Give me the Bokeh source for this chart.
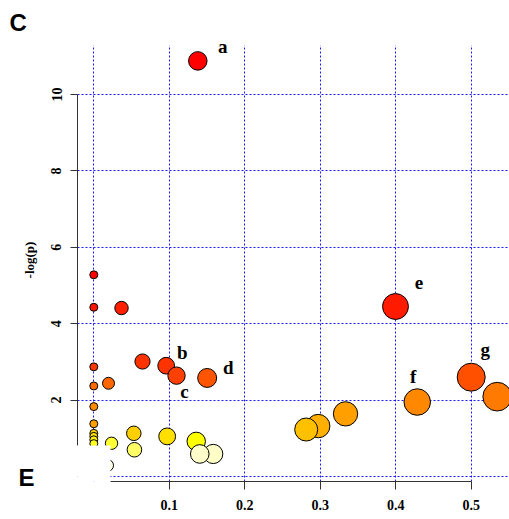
import math
from bokeh.plotting import figure
from bokeh.models import (ColumnDataSource, LabelSet, Label, BoxAnnotation,
                          FixedTicker, Range1d)
from bokeh.core.properties import value
from bokeh.embed import file_html
from bokeh.resources import INLINE

# ---------------- data ----------------
# pathway impact (x) and -log(p) (y)
impact = [0.1378, 0.0, 0.0, 0.0367, 0.3997, 0.0645, 0.0959, 0.1096, 0.0,
          0.1502, 0.5000, 0.0195, 0.0, 0.5345, 0.4285, 0.0, 0.3335, 0.0,
          0.2973, 0.2814, 0.0530, 0.0, 0.0, 0.0, 0.0, 0.0972, 0.1357,
          0.0235, 0.0538, 0.1582, 0.1404, 0.0183]
neglogp = [10.88, 5.28, 4.43, 4.41, 4.45, 3.01, 2.90, 2.64, 2.87,
           2.58, 2.60, 2.44, 2.37, 2.09, 1.95, 1.83, 1.64, 1.38,
           1.32, 1.23, 1.13, 1.13, 1.05, 0.96, 0.86, 1.05, 0.92,
           0.87, 0.70, 0.59, 0.59, 0.29]

# labelled pathways: letter and index of the point it belongs to
label_text = ["a", "b", "c", "d", "e", "f", "g"]
label_point = [0, 6, 7, 9, 4, 14, 10]

x_ticks = [0.0, 0.1, 0.2, 0.3, 0.4, 0.5]
x_tick_labels = ["0.0", "0.1", "0.2", "0.3", "0.4", "0.5"]
y_ticks = [0, 2, 4, 6, 8, 10]
y_tick_labels = ["0", "2", "4", "6", "8", "10"]
y_title = "-log(p)"
panel_letters = ["C", "E"]

# ---------------- styles ----------------
fill_colors = ["#FF0000", "#FF0000", "#FF1400", "#FF1E00", "#FF1A00", "#FF3300",
               "#FF3300", "#FF4000", "#FF3800", "#FF5500", "#FF5000", "#FF6600",
               "#FF6A00", "#FF7A00", "#FF8800", "#FF8C00", "#FFA000", "#FFA000",
               "#FFB000", "#FFC000", "#FFD000", "#FFD000", "#FFE000", "#FFEE00",
               "#FFFF20", "#FFE000", "#FFFF00", "#FFFF33", "#FFFF66", "#FFFFC8",
               "#FFFFCC", "#FFFFE0"]
# label offsets in screen pixels (right, up)
label_dx = [25, 16, 8, 21, 23.5, -4, 14]
label_dy = [8, 7, -22, 4, 18, 19, 21]

def marker_size(v):
    return 8 + 28.3 * math.sqrt(v)

# pixel calibration of the reference
PX_X0, SX = 93.3, 754.8     # px of x=0, px per unit
PX_Y0, SY = 476.0, 38.2     # px of y=0, px per unit
W, H = 509, 519
ML, MR, MT, MB = 77, 0, 38, 38
X0, X1 = (ML - PX_X0) / SX, (W - MR - PX_X0) / SX
Y0, Y1 = (PX_Y0 - (H - MB)) / SY, (PX_Y0 - MT) / SY

def px_x(px):
    return (px - PX_X0) / SX

def px_y(py):
    return (PX_Y0 - py) / SY

# the reference's white corner box hides the start of both axes
x_start = px_x(110)
y_start = px_y(445)

p = figure(width=W, height=H, x_range=Range1d(X0, X1), y_range=Range1d(Y0, Y1),
           output_backend="svg", toolbar_location=None,
           min_border_left=ML, min_border_right=MR, min_border_top=MT,
           min_border_bottom=MB)
p.outline_line_color = None
p.background_fill_color = "white"
p.border_fill_color = "white"

serif = "Liberation Serif"

# x axis
xa = p.xaxis[0]
xa.ticker = FixedTicker(ticks=[t for t in x_ticks if t >= x_start])
xa.bounds = (x_start, x_ticks[-1])
xa.major_label_overrides = {t: l for t, l in zip(x_ticks, x_tick_labels)}
xa.major_tick_out = 8
xa.major_tick_in = 0
xa.minor_tick_line_color = None
xa.axis_line_color = "#333333"
xa.major_tick_line_color = "#333333"
xa.major_label_text_font = serif
xa.major_label_text_font_style = "bold"
xa.major_label_text_font_size = "14px"
xa.major_label_text_color = "black"
xa.major_label_standoff = 10

# y axis
ya = p.yaxis[0]
ya.ticker = FixedTicker(ticks=[t for t in y_ticks if t >= y_start])
ya.bounds = (y_start, y_ticks[-1])
ya.major_label_overrides = {t: l for t, l in zip(y_ticks, y_tick_labels)}
ya.major_label_orientation = "vertical"
ya.major_tick_out = 7
ya.major_tick_in = 0
ya.minor_tick_line_color = None
ya.axis_line_color = "#333333"
ya.major_tick_line_color = "#333333"
ya.major_label_text_font = serif
ya.major_label_text_font_style = "bold"
ya.major_label_text_font_size = "14px"
ya.major_label_text_color = "black"
ya.major_label_standoff = 9
ya.axis_label = y_title
ya.axis_label_text_font = serif
ya.axis_label_text_font_style = "bold"
ya.axis_label_text_font_size = "13px"
ya.axis_label_text_color = "black"
ya.axis_label_standoff = 12

# grids
p.xgrid.ticker = FixedTicker(ticks=x_ticks)
p.ygrid.ticker = FixedTicker(ticks=y_ticks)
for g in (p.xgrid[0], p.ygrid[0]):
    g.grid_line_color = "#0000FF"
    g.grid_line_dash = "2 2"
    g.grid_line_width = 1
    g.grid_line_alpha = 0.9

src = ColumnDataSource(dict(
    x=impact, y=neglogp,
    size=[marker_size(v) for v in impact],
    color=fill_colors,
))
p.scatter("x", "y", size="size", fill_color="color", line_color="black",
          line_width=1, source=src)

# white strip above the grid top, and white corner box (inside the frame)
p.add_layout(BoxAnnotation(left=X0, right=X1, bottom=px_y(45), top=Y1,
                           fill_color="white", fill_alpha=1.0, line_color=None))
p.add_layout(BoxAnnotation(left=X0, right=x_start, top=y_start, bottom=Y0,
                           fill_color="white", fill_alpha=1.0, line_color=None))

lsrc = ColumnDataSource(dict(
    x=[impact[i] for i in label_point],
    y=[neglogp[i] for i in label_point],
    text=label_text, dx=label_dx, dy=label_dy,
))
p.add_layout(LabelSet(x="x", y="y", text="text", x_offset="dx", y_offset="dy",
                      source=lsrc, text_font=value(serif), text_font_style="bold",
                      text_font_size="19px", text_align="center",
                      text_baseline="alphabetic", text_color="black"))

# panel letters (outside the frame, in side panels)
p.add_layout(Label(x=px_x(9), y=px_y(22), text=panel_letters[0],
                   text_font="Liberation Sans", text_font_style="bold",
                   text_font_size="24px", text_align="left",
                   text_baseline="alphabetic", text_color="black"), "above")
p.add_layout(Label(x=px_x(18), y=px_y(477), text=panel_letters[1],
                   text_font="Liberation Sans", text_font_style="bold",
                   text_font_size="24px", text_align="left",
                   text_baseline="alphabetic", text_color="black"), "left")

open("out.html", "w").write(file_html(p, INLINE))
